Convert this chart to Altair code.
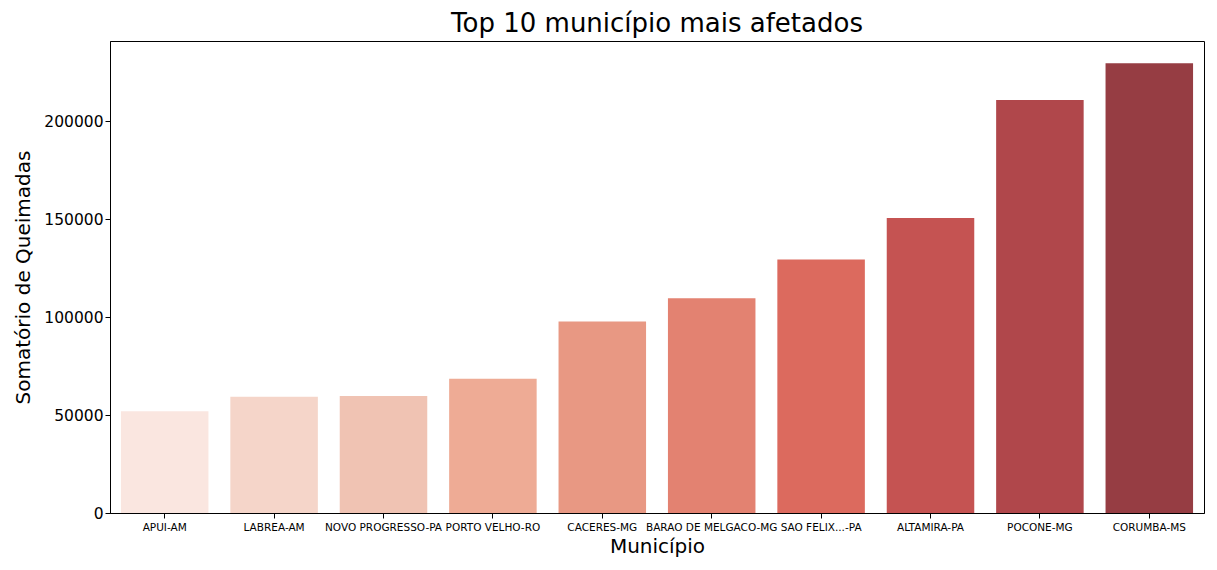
import altair as alt
import pandas as pd

municipios = ["APUI-AM", "LABREA-AM", "NOVO PROGRESSO-PA", "PORTO VELHO-RO", "CACERES-MG",
              "BARAO DE MELGACO-MG", "SAO FELIX...-PA", "ALTAMIRA-PA", "POCONE-MG", "CORUMBA-MS"]
queimadas = [51900, 59300, 59800, 68600, 97800, 109600, 129400, 150600, 210900, 229600]
cores = ["#fae6e0", "#f5d5c9", "#f0c3b3", "#eeab95", "#e89883",
         "#e38271", "#dc6a5e", "#c55352", "#b0474b", "#963d43"]

df = pd.DataFrame({"Município": municipios, "Queimadas": queimadas})

chart = alt.Chart(df).mark_bar().encode(
    x=alt.X("Município:N", sort=municipios, title="Município",
            scale=alt.Scale(paddingInner=0.2, paddingOuter=0.1),
            axis=alt.Axis(labelAngle=0, labelFontSize=10.5, titleFontSize=20,
                          titleFontWeight="normal", labelColor="black", titleColor="black",
                          domainColor="black", tickColor="black", labelPadding=4, titlePadding=4)),
    y=alt.Y("Queimadas:Q", title="Somatório de Queimadas",
            scale=alt.Scale(domain=[0, 241000], nice=False),
            axis=alt.Axis(values=[0, 50000, 100000, 150000, 200000], format="d",
                          labelFontSize=15.5, titleFontSize=20, titleFontWeight="normal",
                          grid=False, labelColor="black", titleColor="black",
                          domainColor="black", tickColor="black", tickSize=5, titlePadding=10)),
    color=alt.Color("Município:N", sort=municipios,
                    scale=alt.Scale(domain=municipios, range=cores), legend=None),
).properties(
    width=1201, height=554,
    autosize=alt.AutoSizeParams(type="fit", contains="padding"),
    title=alt.TitleParams("Top 10 município mais afetados", fontSize=26,
                          fontWeight="normal", color="black", offset=4),
    background="white",
    padding={"left": 5, "right": 5, "top": 3, "bottom": 5},
).configure(font="DejaVu Sans").configure_view(stroke="black", strokeWidth=1)

chart.save("out.html", embed_options={"renderer": "svg", "actions": False})
